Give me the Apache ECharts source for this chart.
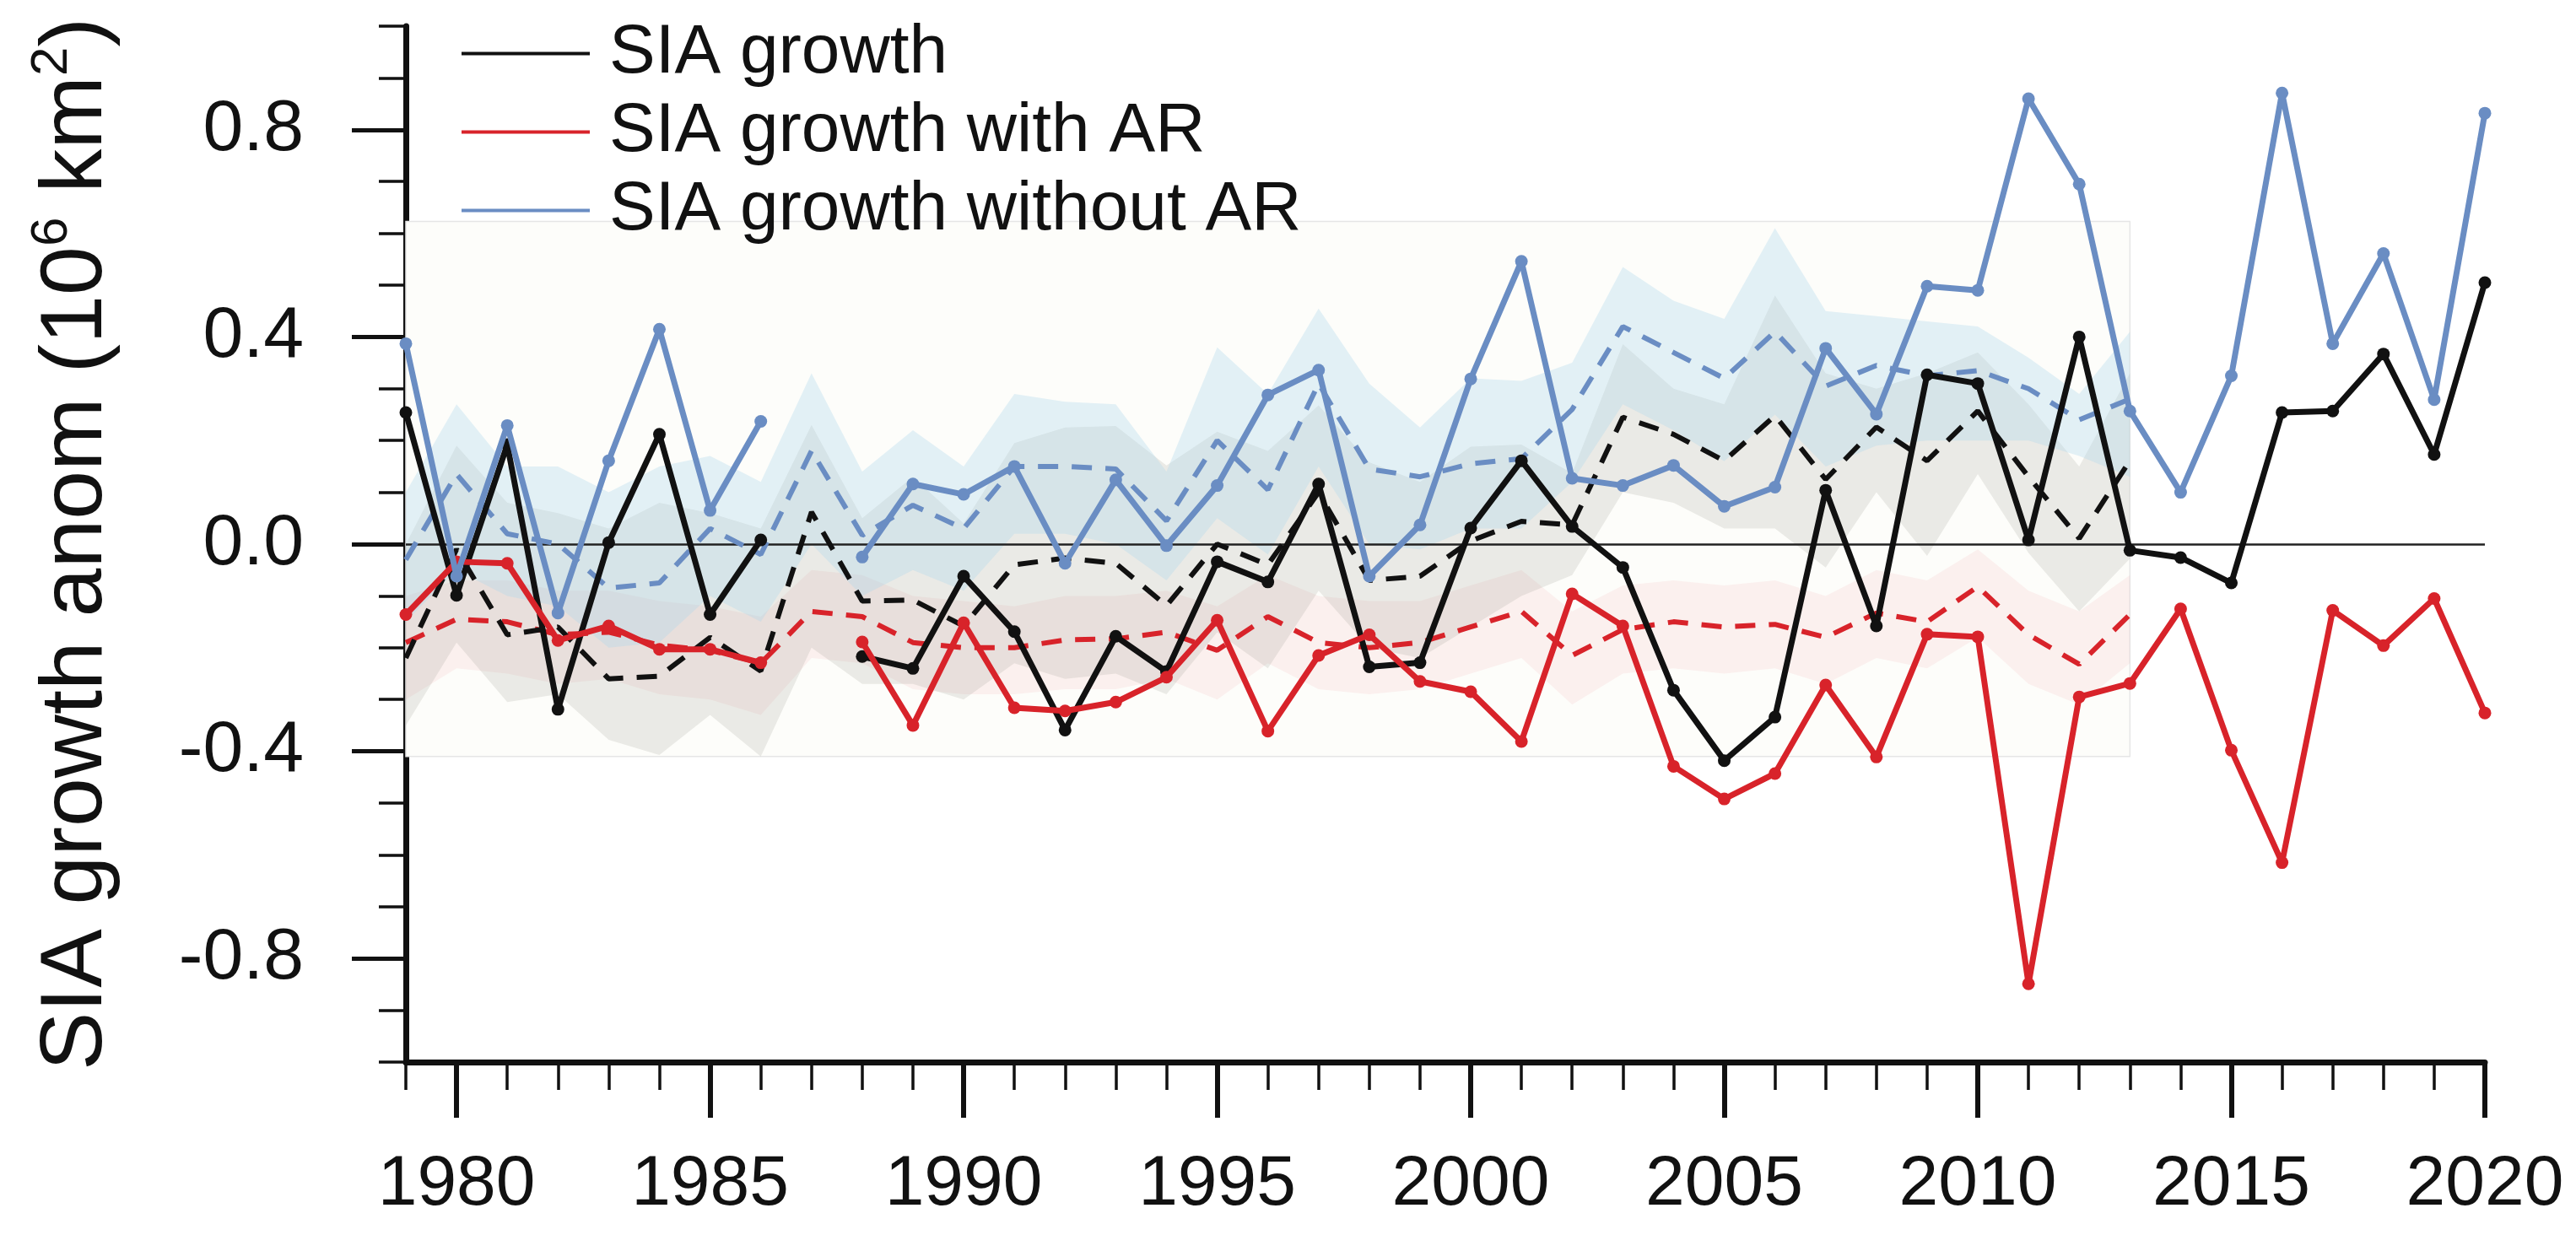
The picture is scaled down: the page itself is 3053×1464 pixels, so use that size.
<!DOCTYPE html>
<html>
<head>
<meta charset="utf-8">
<script src="https://cdn.jsdelivr.net/npm/echarts@6/dist/echarts.min.js"></script>
<style>
  html, body { margin: 0; padding: 0; background: #ffffff; }
  #chart { width: 3053px; height: 1464px; }
</style>
</head>
<body>
<div id="chart"></div>
<script>
// Observed years (1987 has no record)
const years = [1979, 1980, 1981, 1982, 1983, 1984, 1985, 1986, 1987, 1988,
  1989, 1990, 1991, 1992, 1993, 1994, 1995, 1996, 1997, 1998,
  1999, 2000, 2001, 2002, 2003, 2004, 2005, 2006, 2007, 2008,
  2009, 2010, 2011, 2012, 2013, 2014, 2015, 2016, 2017, 2018,
  2019, 2020];

// Observed sea-ice-area growth anomalies (10^6 km^2)
const siaGrowth = [0.254, -0.099, 0.192, -0.319, 0.003, 0.212, -0.136, 0.008, null, -0.217,
  -0.240, -0.062, -0.169, -0.359, -0.178, -0.246, -0.034, -0.073, 0.116, -0.237,
  -0.229, 0.031, 0.161, 0.034, -0.045, -0.282, -0.418, -0.334, 0.104, -0.158,
  0.327, 0.310, 0.008, 0.400, -0.012, -0.026, -0.075, 0.254, 0.257, 0.367,
  0.173, 0.505];
const siaWithAR = [-0.136, -0.034, -0.037, -0.186, -0.158, -0.203, -0.203, -0.229, null, -0.189,
  -0.350, -0.152, -0.316, -0.322, -0.305, -0.257, -0.147, -0.361, -0.215, -0.175,
  -0.265, -0.285, -0.381, -0.096, -0.158, -0.429, -0.492, -0.443, -0.272, -0.411,
  -0.174, -0.179, -0.849, -0.295, -0.269, -0.125, -0.398, -0.615, -0.128, -0.196,
  -0.105, -0.326];
const siaWithoutAR = [0.387, -0.062, 0.229, -0.133, 0.161, 0.415, 0.065, 0.237, null, -0.025,
  0.116, 0.096, 0.150, -0.037, 0.124, -0.003, 0.113, 0.288, 0.336, -0.062,
  0.037, 0.319, 0.546, 0.127, 0.113, 0.152, 0.073, 0.110, 0.378, 0.251,
  0.498, 0.490, 0.860, 0.695, 0.257, 0.100, 0.325, 0.871, 0.387, 0.561,
  0.279, 0.832];

// Model ensemble years
const modelYears = [1979, 1980, 1981, 1982, 1983, 1984, 1985, 1986, 1987, 1988,
  1989, 1990, 1991, 1992, 1993, 1994, 1995, 1996, 1997, 1998,
  1999, 2000, 2001, 2002, 2003, 2004, 2005, 2006, 2007, 2008,
  2009, 2010, 2011, 2012, 2013];

// Ensemble means
const modelGrowth = [-0.22, -0.01, -0.175, -0.16, -0.26, -0.255, -0.18, -0.245, 0.062, -0.11,
  -0.108, -0.158, -0.04, -0.027, -0.037, -0.119, 0.0, -0.04, 0.10, -0.07,
  -0.062, 0.006, 0.044, 0.037, 0.245, 0.212, 0.161, 0.248, 0.125, 0.226,
  0.161, 0.257, 0.13, 0.011, 0.161];
const modelWithAR = [-0.19, -0.145, -0.15, -0.175, -0.17, -0.195, -0.205, -0.23, -0.13, -0.14,
  -0.19, -0.2, -0.2, -0.185, -0.183, -0.17, -0.205, -0.14, -0.19, -0.2,
  -0.19, -0.16, -0.13, -0.215, -0.165, -0.15, -0.16, -0.155, -0.18, -0.133,
  -0.15, -0.082, -0.175, -0.232, -0.136];
const modelWithoutAR = [-0.03, 0.135, 0.02, 0.0, -0.085, -0.075, 0.03, -0.02, 0.18, 0.017,
  0.075, 0.03, 0.15, 0.15, 0.145, 0.045, 0.2, 0.105, 0.31, 0.145,
  0.13, 0.155, 0.165, 0.26, 0.42, 0.37, 0.32, 0.41, 0.305, 0.345,
  0.325, 0.335, 0.3, 0.24, 0.28];

// Ensemble spread envelopes
const growthHi = [0.0, 0.19, 0.08, 0.06, 0.03, 0.08, 0.06, 0.03, 0.23, 0.05,
  0.13, 0.04, 0.195, 0.225, 0.228, 0.152, 0.217, 0.18, 0.268, 0.158,
  0.12, 0.188, 0.192, 0.137, 0.386, 0.30, 0.27, 0.48, 0.33, 0.30,
  0.33, 0.37, 0.27, 0.15, 0.33];
const growthLo = [-0.35, -0.19, -0.305, -0.29, -0.378, -0.407, -0.33, -0.41, -0.20, -0.27,
  -0.27, -0.30, -0.23, -0.26, -0.25, -0.29, -0.17, -0.24, -0.09, -0.20,
  -0.22, -0.16, -0.10, -0.06, 0.10, 0.08, 0.03, 0.03, -0.045, 0.10,
  -0.023, 0.135, -0.017, -0.13, -0.028];
const withARHi = [-0.10, -0.07, -0.07, -0.09, -0.09, -0.11, -0.12, -0.14, -0.05, -0.06,
  -0.10, -0.11, -0.12, -0.10, -0.10, -0.09, -0.12, -0.06, -0.10, -0.11,
  -0.11, -0.08, -0.05, -0.13, -0.08, -0.07, -0.08, -0.07, -0.10, -0.05,
  -0.07, -0.01, -0.09, -0.13, -0.06];
const withARLo = [-0.30, -0.24, -0.25, -0.27, -0.26, -0.29, -0.30, -0.33, -0.22, -0.23,
  -0.28, -0.29, -0.29, -0.28, -0.28, -0.26, -0.30, -0.23, -0.28, -0.29,
  -0.28, -0.25, -0.22, -0.31, -0.25, -0.24, -0.25, -0.24, -0.27, -0.22,
  -0.24, -0.18, -0.27, -0.31, -0.23];
const withoutARHi = [0.10, 0.27, 0.15, 0.15, 0.10, 0.15, 0.17, 0.12, 0.33, 0.14,
  0.22, 0.15, 0.29, 0.275, 0.27, 0.14, 0.38, 0.29, 0.455, 0.31,
  0.225, 0.32, 0.315, 0.35, 0.535, 0.47, 0.435, 0.61, 0.45, 0.44,
  0.43, 0.42, 0.36, 0.29, 0.41];
const withoutARLo = [-0.15, -0.05, -0.10, -0.12, -0.20, -0.19, -0.10, -0.15, 0.0, -0.10,
  -0.05, -0.09, 0.02, 0.02, 0.0, -0.07, 0.05, -0.02, 0.15, 0.0,
  -0.01, 0.03, 0.03, 0.12, 0.27, 0.22, 0.16, 0.25, 0.15, 0.19,
  0.20, 0.20, 0.20, 0.17, 0.13];

// Model period panel extent
const panelRange = { x0: 1979, x1: 2013, yTop: 0.623, yBottom: -0.41 };

// Axis ticks and labels
const xLabelYears = [1980, 1985, 1990, 1995, 2000, 2005, 2010, 2015, 2020];
const xMinorYears = years.filter(y => xLabelYears.indexOf(y) < 0);
const yMajor = [-0.8, -0.4, 0, 0.4, 0.8];
const yMinor = [-1.0, -0.9, -0.7, -0.6, -0.5, -0.3, -0.2, -0.1, 0.1, 0.2, 0.3, 0.5, 0.6, 0.7, 0.9, 1.0];

const legendNames = ['SIA growth', 'SIA growth with AR', 'SIA growth without AR'];

const C_BLACK = '#111111';
const C_RED = '#d8232a';
const C_BLUE = '#6a8dc3';
const FONT = "'Liberation Sans', Arial, sans-serif";

function pairs(xs, vs) { return xs.map((x, i) => [x, vs[i]]); }

function band(name, lo, hi, fill, z) {
  return {
    type: 'custom', name: name, z: z, silent: true, clip: true,
    data: [[modelYears[0], lo[0]]],
    encode: { x: 0, y: 1 },
    renderItem: function (params, api) {
      const upper = modelYears.map((yr, i) => api.coord([yr, hi[i]]));
      const lower = modelYears.map((yr, i) => api.coord([yr, lo[i]])).reverse();
      return { type: 'polygon', shape: { points: upper.concat(lower) }, style: { fill: fill } };
    }
  };
}

function observed(name, vs, color, z) {
  return {
    type: 'line', name: name, z: z, data: pairs(years, vs),
    connectNulls: false, symbol: 'circle', symbolSize: 15, showSymbol: true,
    lineStyle: { color: color, width: 7 }, itemStyle: { color: color },
    emphasis: { disabled: true }
  };
}

function ensembleMean(name, vs, color, z) {
  return {
    type: 'line', name: name, z: z, data: pairs(modelYears, vs),
    symbol: 'none', lineStyle: { color: color, width: 6, type: [24, 16] },
    itemStyle: { color: color }, emphasis: { disabled: true }
  };
}

const chart = echarts.init(document.getElementById('chart'));
chart.setOption({
  animation: false,
  backgroundColor: '#ffffff',
  grid: { left: 481, right: 108, top: 31, bottom: 205, containLabel: false, outerBoundsMode: 'none' },
  legend: {
    data: legendNames, orient: 'vertical', left: 542, top: 12,
    icon: 'rect', itemWidth: 152, itemHeight: 4, itemGap: 0,
    textStyle: { fontSize: 82, fontFamily: FONT, color: C_BLACK, lineHeight: 93, padding: [0, 0, 0, 18] }
  },
  xAxis: [{
    type: 'value', min: 1979, max: 2020, position: 'bottom',
    axisLine: { show: true, onZero: false, lineStyle: { color: C_BLACK, width: 7 } },
    axisTick: { show: true, customValues: xMinorYears, length: 33, lineStyle: { color: C_BLACK, width: 3.5 } },
    axisLabel: { customValues: xLabelYears, fontSize: 84, fontFamily: FONT, color: C_BLACK, margin: 104,
      formatter: v => String(v) },
    splitLine: { show: false }
  }, {
    type: 'value', min: 1979, max: 2020, position: 'bottom',
    axisLine: { show: false, onZero: false },
    axisTick: { show: true, customValues: xLabelYears, length: 66, lineStyle: { color: C_BLACK, width: 6 } },
    axisLabel: { show: false },
    splitLine: { show: false }
  }],
  yAxis: [{
    type: 'value', min: -1, max: 1, position: 'left',
    axisLine: { show: true, onZero: false, lineStyle: { color: C_BLACK, width: 7 } },
    axisTick: { show: true, customValues: yMinor, length: 32, lineStyle: { color: C_BLACK, width: 3.5 } },
    axisLabel: { customValues: yMajor, fontSize: 86, fontFamily: FONT, color: C_BLACK, margin: 121,
      formatter: v => Number(v).toFixed(1) },
    splitLine: { show: false },
    name: '{t|SIA growth anom (10}{s|6}{t| km}{s|2}{t|)}',
    nameLocation: 'middle', nameRotate: 90, nameGap: 330,
    nameTextStyle: {
      rich: {
        t: { fontSize: 104, fontFamily: FONT, color: C_BLACK, lineHeight: 120 },
        s: { fontSize: 62, fontFamily: FONT, color: C_BLACK, lineHeight: 62, verticalAlign: 'top' }
      }
    }
  }, {
    type: 'value', min: -1, max: 1, position: 'left',
    axisLine: { show: false, onZero: false },
    axisTick: { show: true, customValues: yMajor, length: 64, lineStyle: { color: C_BLACK, width: 5 } },
    axisLabel: { show: false },
    splitLine: { show: false }
  }],
  series: [
    {
      type: 'line', name: 'panel', data: [], z: 1, silent: true,
      markArea: {
        silent: true,
        itemStyle: { color: '#fdfdfa', borderColor: '#e6e6e6', borderWidth: 1.5 },
        data: [[{ coord: [panelRange.x0, panelRange.yTop] }, { coord: [panelRange.x1, panelRange.yBottom] }]]
      }
    },
    band('with AR spread', withARLo, withARHi, 'rgba(240,150,160,0.12)', 2),
    band('growth spread', growthLo, growthHi, 'rgba(140,140,130,0.17)', 3),
    band('without AR spread', withoutARLo, withoutARHi, 'rgba(170,215,235,0.32)', 4),
    {
      type: 'line', name: 'zero', data: [], z: 5, silent: true,
      markLine: {
        silent: true, symbol: 'none', label: { show: false },
        lineStyle: { color: '#222222', width: 2.5, type: 'solid' },
        data: [{ yAxis: 0 }]
      }
    },
    ensembleMean('model with AR', modelWithAR, C_RED, 6),
    ensembleMean('model without AR', modelWithoutAR, C_BLUE, 6),
    ensembleMean('model growth', modelGrowth, C_BLACK, 6),
    observed('SIA growth', siaGrowth, C_BLACK, 7),
    observed('SIA growth with AR', siaWithAR, C_RED, 8),
    observed('SIA growth without AR', siaWithoutAR, C_BLUE, 9)
  ]
});
</script>
</body>
</html>
